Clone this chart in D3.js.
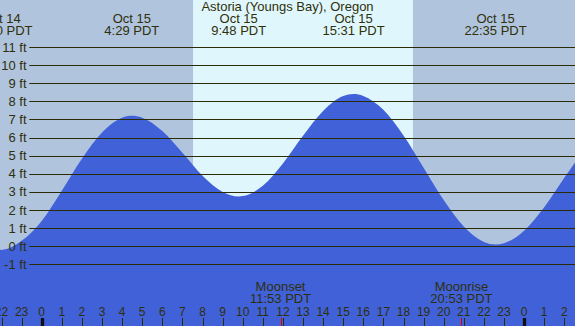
<!DOCTYPE html>
<html>
  <head>
    <style>
      body { margin: 0; }
      text { font-family: "Liberation Sans", Arial, sans-serif; fill: #2f2f0a; }
    </style>
  </head>

  <body>

    <svg class="surface" width="575" height="326"></svg>

    <script src="https://cdn.jsdelivr.net/npm/d3@7/dist/d3.min.js" charset="utf-8"></script>
    <script>

      // hours since Oct 15 00:00 PDT, heights in ft
      const hours   = [-3, -2, -1, 0, 1, 2, 3, 4, 5, 6, 7, 8, 9, 10, 11, 12, 13, 14, 15, 16, 17, 18, 19, 20, 21, 22, 23, 24, 25, 26, 27]
      const heights = [0.25, -0.2, 0.3, 1.4, 3.07, 4.83, 6.28, 7.1, 7.1, 6.36, 5.16, 3.89, 3.0, 2.77, 3.34, 4.57, 6.1, 7.47, 8.29, 8.3, 7.53, 6.12, 4.34, 2.55, 1.09, 0.24, 0.17, 0.86, 2.16, 3.78, 5.36]

      const extremeTimes   = [-2.0, 4.483, 9.8, 15.517, 22.583]
      const extremeHeights = [-0.2, 7.2, 2.75, 8.4, 0.1]
      const extremeDays    = ['Oct 14', 'Oct 15', 'Oct 15', 'Oct 15', 'Oct 15']
      const extremeClocks  = ['22:00 PDT', '4:29 PDT', '9:48 PDT', '15:31 PDT', '22:35 PDT']

      const sunrise = 7.53
      const sunset = 18.47

      const moonNames  = ['Moonset', 'Moonrise']
      const moonTimes  = [11.883, 20.883]
      const moonClocks = ['11:53 PDT', '20:53 PDT']

      const feet = [-1, 0, 1, 2, 3, 4, 5, 6, 7, 8, 9, 10, 11]
      const hourTicks = d3.range(-2, 27)

      const W = 575, H = 326
      const svg = d3.select('.surface')

      const x = d3.scaleLinear().domain([0, 24]).range([41.7, 524.1])
      const y = d3.scaleLinear().domain([0, 11]).range([246.3, 47])

      // night / day background
      svg.append('rect').attr('width', W).attr('height', H).attr('fill', '#b0c4de')
      svg.append('rect')
        .attr('x', x(sunrise)).attr('y', 0)
        .attr('width', x(sunset) - x(sunrise)).attr('height', H)
        .attr('fill', '#dff7fc')

      // tide curve
      const pts = hours.map((h, i) => [h, heights[i]])
        .concat(extremeTimes.map((h, i) => [h, extremeHeights[i]]))
        .sort((a, b) => a[0] - b[0])
        .filter((p, i, arr) => i === 0 || Math.abs(p[0] - arr[i - 1][0]) > 0.15 || extremeTimes.includes(p[0]))
      const clean = pts.filter(p => extremeTimes.includes(p[0]) || !extremeTimes.some(t => Math.abs(t - p[0]) < 0.15))

      const area = d3.area()
        .x(d => x(d[0]))
        .y0(H)
        .y1(d => y(d[1]))
        .curve(d3.curveMonotoneX)

      svg.append('path').datum(clean).attr('d', area).attr('fill', '#4161d8')

      // grid lines and foot labels
      svg.selectAll('line.grid').data(feet).enter().append('line')
        .attr('class', 'grid')
        .attr('x1', 29.3).attr('x2', W)
        .attr('y1', d => Math.round(y(d)) + 0.5).attr('y2', d => Math.round(y(d)) + 0.5)
        .attr('stroke', '#2b2b05').attr('stroke-width', 1.2)

      svg.selectAll('text.ft').data(feet).enter().append('text')
        .attr('class', 'ft')
        .attr('x', 26.5).attr('y', d => y(d) + 4.5)
        .attr('text-anchor', 'end')
        .style('font-size', '13px')
        .text(d => d + ' ft')

      // header
      svg.append('text')
        .attr('x', W / 2).attr('y', 11)
        .attr('text-anchor', 'middle')
        .style('font-size', '13px')
        .text('Astoria (Youngs Bay), Oregon')

      const ev = svg.selectAll('g.ev').data(extremeTimes).enter().append('g')
        .attr('class', 'ev')
        .attr('transform', d => `translate(${x(d)},0)`)
      ev.append('text').attr('y', 23).attr('text-anchor', 'middle').style('font-size', '13px')
        .text((d, i) => extremeDays[i])
      ev.append('text').attr('y', 35).attr('text-anchor', 'middle').style('font-size', '13px')
        .text((d, i) => extremeClocks[i])

      // moon events
      const moon = svg.selectAll('g.moon').data(moonTimes).enter().append('g')
        .attr('class', 'moon')
        .attr('transform', d => `translate(${x(d)},0)`)
      moon.append('text').attr('y', 291).attr('text-anchor', 'middle').style('font-size', '13px')
        .text((d, i) => moonNames[i])
      moon.append('text').attr('y', 303).attr('text-anchor', 'middle').style('font-size', '13px')
        .text((d, i) => moonClocks[i])

      // hour axis
      svg.selectAll('line.tick').data(hourTicks).enter().append('line')
        .attr('class', 'tick')
        .attr('x1', d => Math.round(x(d)) + 0.5).attr('x2', d => Math.round(x(d)) + 0.5)
        .attr('y1', 318).attr('y2', H)
        .attr('stroke', d => d % 24 === 0 ? '#111' : '#2b2b05')
        .attr('stroke-width', d => d % 24 === 0 ? 3.3 : 1)

      svg.selectAll('line.moontick').data(moonTimes).enter().append('line')
        .attr('class', 'moontick')
        .attr('x1', d => Math.round(x(d)) + 0.5).attr('x2', d => Math.round(x(d)) + 0.5)
        .attr('y1', 318).attr('y2', H)
        .attr('stroke', '#e00000').attr('stroke-width', 1)

      svg.selectAll('text.hr').data(hourTicks).enter().append('text')
        .attr('class', 'hr')
        .attr('x', d => x(d)).attr('y', 316)
        .attr('text-anchor', 'middle')
        .style('font-size', '12px')
        .text(d => ((d % 24) + 24) % 24)

    </script>
  </body>

</html>
